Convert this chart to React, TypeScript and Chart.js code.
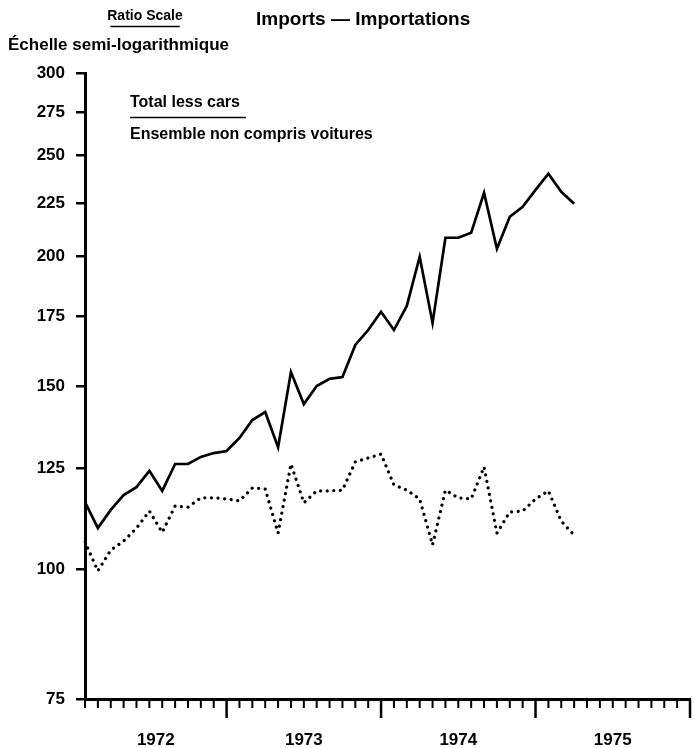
import React, { useEffect, useRef } from 'react';
import { Chart, registerables } from 'chart.js';
Chart.register(...registerables);

const FONT = '"Liberation Sans", Arial, sans-serif';

// Monthly categories from Feb 1972 to Jan 1976 (axis span)
const months = [
  'Feb 1972', 'Mar 1972', 'Apr 1972', 'May 1972', 'Jun 1972', 'Jul 1972', 'Aug 1972', 'Sep 1972', 'Oct 1972', 'Nov 1972', 'Dec 1972',
  'Jan 1973', 'Feb 1973', 'Mar 1973', 'Apr 1973', 'May 1973', 'Jun 1973', 'Jul 1973', 'Aug 1973', 'Sep 1973', 'Oct 1973', 'Nov 1973', 'Dec 1973',
  'Jan 1974', 'Feb 1974', 'Mar 1974', 'Apr 1974', 'May 1974', 'Jun 1974', 'Jul 1974', 'Aug 1974', 'Sep 1974', 'Oct 1974', 'Nov 1974', 'Dec 1974',
  'Jan 1975', 'Feb 1975', 'Mar 1975', 'Apr 1975', 'May 1975', 'Jun 1975', 'Jul 1975', 'Aug 1975', 'Sep 1975', 'Oct 1975', 'Nov 1975', 'Dec 1975',
  'Jan 1976',
];

const yearLabels = ['1972', '1973', '1974', '1975'];
const yTicks = [75, 100, 125, 150, 175, 200, 225, 250, 275, 300];

// Total less cars (solid)
const totalLessCars = [
  116, 109.5, 114, 117.8, 119.9, 124.3, 118.9, 126.2, 126.2, 128.2, 129.3,
  129.9, 133.7, 139.1, 141.6, 131, 154.7, 144.1, 150, 152.4, 153, 164.3, 169.8,
  176.8, 169.8, 179.1, 199.7, 172.5, 208.3, 208.3, 210.6, 230.1, 203.3, 218.2, 223.1,
  231.6, 240, 230.6, 224.6,
];

// Dotted series
const dottedSeries = [
  106.2, 99.6, 104.3, 106.4, 109.5, 113.7, 108.5, 115, 114.7, 117.1, 117.1,
  116.8, 116.3, 119.7, 119.4, 108.3, 126.2, 115.8, 118.9, 118.9, 119.1, 126.8, 127.9,
  129, 120.5, 119.1, 116.8, 105.5, 119.1, 117.1, 116.8, 125.4, 108.3, 113.5, 113.7,
  116.8, 118.9, 111.2, 107.8,
];

const decor = {
  id: 'decor',
  afterDraw(chart: any) {
    const ctx: CanvasRenderingContext2D = chart.ctx;
    const xs = chart.scales.x;
    const area = chart.chartArea;
    const base = area.bottom;
    ctx.save();
    ctx.strokeStyle = '#000';
    ctx.fillStyle = '#000';
    // month ticks
    const yearStarts: number[] = [0];
    months.forEach((m, i) => {
      const px = xs.getPixelForValue(i);
      const isYear = m.startsWith('Jan');
      if (isYear) yearStarts.push(i);
      ctx.lineWidth = isYear ? 2.5 : 2;
      ctx.beginPath();
      ctx.moveTo(px, base);
      ctx.lineTo(px, base + (isYear ? 19 : 9));
      ctx.stroke();
    });
    // year labels
    ctx.font = `bold 17px ${FONT}`;
    ctx.textAlign = 'center';
    ctx.textBaseline = 'alphabetic';
    yearLabels.forEach((y, k) => {
      const a = xs.getPixelForValue(yearStarts[k]);
      const b = xs.getPixelForValue(yearStarts[k + 1]);
      ctx.fillText(y, (a + b) / 2, 745);
    });
    // headings
    ctx.font = `bold 14px ${FONT}`;
    const rs = 'Ratio Scale';
    const rw = ctx.measureText(rs).width;
    const rc = 145;
    ctx.fillText(rs, rc, 20);
    ctx.lineWidth = 1.5;
    ctx.beginPath();
    ctx.moveTo(rc - rw / 2 + 3, 26.5);
    ctx.lineTo(rc + rw / 2 - 3, 26.5);
    ctx.stroke();
    ctx.textAlign = 'left';
    ctx.font = `bold 19px ${FONT}`;
    ctx.fillText('Imports \u2014 Importations', 256, 25);
    ctx.font = `bold 17px ${FONT}`;
    ctx.fillText('\u00C9chelle semi-logarithmique', 8, 50);
    // legend text
    ctx.font = `bold 16px ${FONT}`;
    ctx.fillText('Total less cars', 130, 107);
    ctx.beginPath();
    ctx.moveTo(130, 117.5);
    ctx.lineTo(246, 117.5);
    ctx.stroke();
    ctx.fillText('Ensemble non compris voitures', 130, 139);
    ctx.restore();
  },
};

export default function App() {
  const ref = useRef<HTMLCanvasElement>(null);
  useEffect(() => {
    const chart = new Chart(ref.current as HTMLCanvasElement, {
      type: 'line',
      data: {
        labels: months,
        datasets: [
          {
            label: 'Total less cars',
            data: totalLessCars,
            borderColor: '#000',
            borderWidth: 2.7,
            pointRadius: 0,
            tension: 0,
            fill: false,
          },
          {
            label: 'Dotted',
            data: dottedSeries,
            borderColor: '#000',
            borderWidth: 3.2,
            borderDash: [0.01, 6.6],
            borderCapStyle: 'round',
            pointRadius: 0,
            tension: 0,
            fill: false,
          },
        ],
      },
      options: {
        responsive: false,
        animation: false,
        devicePixelRatio: 1,
        layout: { padding: { left: 0, right: 4, top: 73, bottom: 49 } },
        plugins: {
          legend: { display: false },
          tooltip: { enabled: false },
          title: { display: false },
        },
        scales: {
          x: {
            type: 'category',
            offset: false,
            ticks: { display: false },
            grid: { display: true, drawOnChartArea: false, drawTicks: false, color: '#000' },
            border: { display: true, color: '#000', width: 3 },
            afterFit: (s: any) => {
              s.height = 0;
            },
          },
          y: {
            type: 'logarithmic',
            min: 75,
            max: 300,
            afterBuildTicks: (s: any) => {
              s.ticks = yTicks.map((v) => ({ value: v }));
            },
            ticks: {
              color: '#000',
              padding: 11,
              font: { family: FONT, weight: 'bold', size: 17 },
              callback: (v: any) => String(v),
            },
            grid: { drawOnChartArea: false, drawTicks: true, tickLength: 9, color: '#000', lineWidth: 2.5 },
            border: { display: true, color: '#000', width: 3 },
            afterFit: (s: any) => {
              s.width = 85;
            },
          },
        },
      } as any,
      plugins: [decor],
    });
    return () => chart.destroy();
  }, []);
  return (
    <div style={{ position: 'absolute', left: 0, top: 0, width: 694, height: 748, background: '#fff' }}>
      <canvas ref={ref} width={694} height={748} style={{ display: 'block' }} />
    </div>
  );
}
